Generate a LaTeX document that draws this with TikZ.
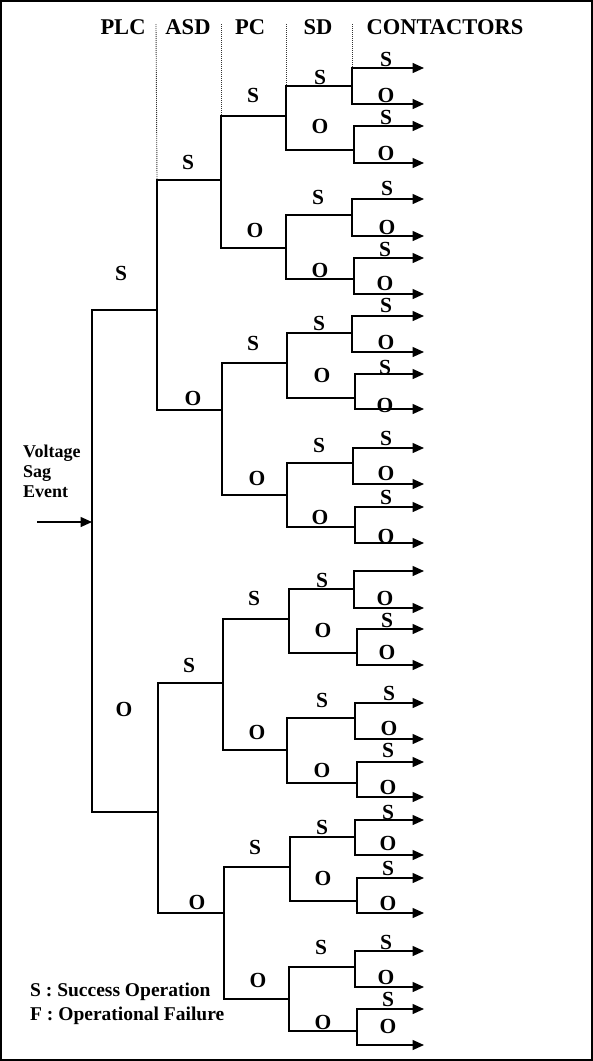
\documentclass[tikz,border=0pt]{standalone}
\usepackage{fontspec}
\setmainfont{Liberation Serif}
\usetikzlibrary{arrows.meta}
\begin{document}
\begin{tikzpicture}[x=1pt,y=-1pt,
  wire/.style={line width=1.5pt, draw=black, line join=miter},
  tip/.tip={Triangle[length=11.5pt,width=10pt]},
  lbl/.style={font=\fontsize{21.5}{21.5}\selectfont\bfseries, inner sep=0pt},
  head/.style={font=\fontsize{22.5}{22.5}\selectfont\bfseries, inner sep=0pt},
  note/.style={font=\fontsize{18}{20}\selectfont\bfseries, inner sep=0pt, align=left, anchor=north west},
  legend/.style={font=\fontsize{19.5}{24}\selectfont\bfseries, inner sep=0pt, anchor=base west},
  guide/.style={line width=0.9pt, dash pattern=on 1pt off 1pt, draw=black!80}]
\useasboundingbox (0,0) rectangle (593,1061);
\draw[line width=2pt] (1,1) rectangle (592,1060);

% headers
\node[head] (hPLC) at (123,27) {PLC};
\node[head] (hASD) at (188,27) {ASD};
\node[head] (hPC) at (250,27) {PC};
\node[head] (hSD) at (318,27) {SD};
\node[head] (hCON) at (445,27) {CONTACTORS};

% contactor brackets with arrows
\foreach \i/\x/\t/\b in {1/352/68/104, 2/354/126/163, 3/352/199/236, 4/354/258/294,
  5/352/316/352, 6/355/374/409, 7/353/448/484, 8/355/507/543,
  9/354/571/608, 10/357/629/665, 11/355/703/739, 12/357/762/797,
  13/355/820/855, 14/357/878/913, 15/355/951/987, 16/357/1009/1045} {
  \coordinate (ct\i) at (\x,\t);
  \coordinate (cb\i) at (\x,\b);
  \coordinate (ce\i) at (424,\t);
  \coordinate (cf\i) at (424,\b);
  \draw[wire,{tip}-{tip}] (ce\i) -- (ct\i) -- (cb\i) -- (cf\i);
}
\foreach \i/\x/\y in {1/386/59, 2/386/117, 3/387/188, 4/385/249, 5/386/305, 6/385/367,
  7/386/438, 8/386/497, 10/387/620, 11/389/693, 12/388/750, 13/388/812,
  14/388/868, 15/386/942, 16/388/999}
  \node[lbl] (cs\i) at (\x,\y) {S};
\foreach \i/\x/\y in {1/386/95, 2/386/153, 3/387/227, 4/385/283, 5/386/342, 6/385/405,
  7/386/473, 8/386/536, 9/385/598, 10/387/652, 11/389/728, 12/388/787,
  13/388/843, 14/388/903, 15/386/977, 16/388/1026}
  \node[lbl] (co\i) at (\x,\y) {O};

% SD brackets
\foreach \k/\x/\t/\b/\ja/\jb/\sx/\sy/\ox/\oy in {
  1/286/86/150/1/2/320/77/320/126,
  2/286/215/279/3/4/318/197/320/270,
  3/287/333/398/5/6/319/323/322/375,
  4/287/463/527/7/8/319/445/320/517,
  5/289/589/653/9/10/322/580/323/630,
  6/287/718/783/11/12/322/700/322/770,
  7/290/837/901/13/14/322/827/323/878,
  8/289/967/1031/15/16/321/947/323/1022} {
  \coordinate (st\k) at (\x,\t);
  \coordinate (sb\k) at (\x,\b);
  \draw[wire] (st\k -| ct\ja) -- (st\k) -- (sb\k) -- (sb\k -| cb\jb);
  \node[lbl] (ss\k) at (\sx,\sy) {S};
  \node[lbl] (so\k) at (\ox,\oy) {O};
}

% PC brackets
\foreach \m/\x/\t/\b/\ka/\kb/\sx/\sy/\ox/\oy in {
  1/221/116/248/1/2/253/95/255/230,
  2/222/363/495/3/4/253/343/257/478,
  3/223/619/750/5/6/254/598/257/732,
  4/224/867/999/7/8/255/847/258/980} {
  \coordinate (pt\m) at (\x,\t);
  \coordinate (pb\m) at (\x,\b);
  \draw[wire] (pt\m -| st\ka) -- (pt\m) -- (pb\m) -- (pb\m -| st\kb);
  \node[lbl] (ps\m) at (\sx,\sy) {S};
  \node[lbl] (po\m) at (\ox,\oy) {O};
}

% ASD brackets
\foreach \n/\x/\t/\b/\ma/\mb/\sx/\sy/\ox/\oy in {
  1/157/180/410/1/2/188/162/193/398,
  2/158/683/913/3/4/189/665/197/902} {
  \coordinate (at\n) at (\x,\t);
  \coordinate (ab\n) at (\x,\b);
  \draw[wire] (at\n -| pt\ma) -- (at\n) -- (ab\n) -- (ab\n -| pt\mb);
  \node[lbl] (as\n) at (\sx,\sy) {S};
  \node[lbl] (ao\n) at (\ox,\oy) {O};
}

% PLC bracket
\coordinate (lt) at (92,310);
\coordinate (lb) at (92,812);
\draw[wire] (lt -| at1) -- (lt) -- (lb) -- (lb -| at2);
\node[lbl] (ls) at (121,273) {S};
\node[lbl] (lo) at (124,709) {O};

% input event
\coordinate (in) at (37,522);
\draw[wire,-{tip}] (in) -- (in -| lt);
\node[note] (ev) at (23,445) {Voltage\\Sag\\Event};

% dotted column guides
\coordinate (g1) at (156,24);
\coordinate (g2) at (221,24);
\coordinate (g3) at (286,24);
\coordinate (g4) at (352,24);
\draw[guide] (g1) -- (at1);
\draw[guide] (g2) -- (pt1);
\draw[guide] (g3) -- (st1);
\draw[guide] (g4) -- (ct1);

% legend
\node[legend] (leg1) at (30,996) {S : Success Operation};
\node[legend] (leg2) at (30,1020) {F : Operational Failure};
\end{tikzpicture}
\end{document}
